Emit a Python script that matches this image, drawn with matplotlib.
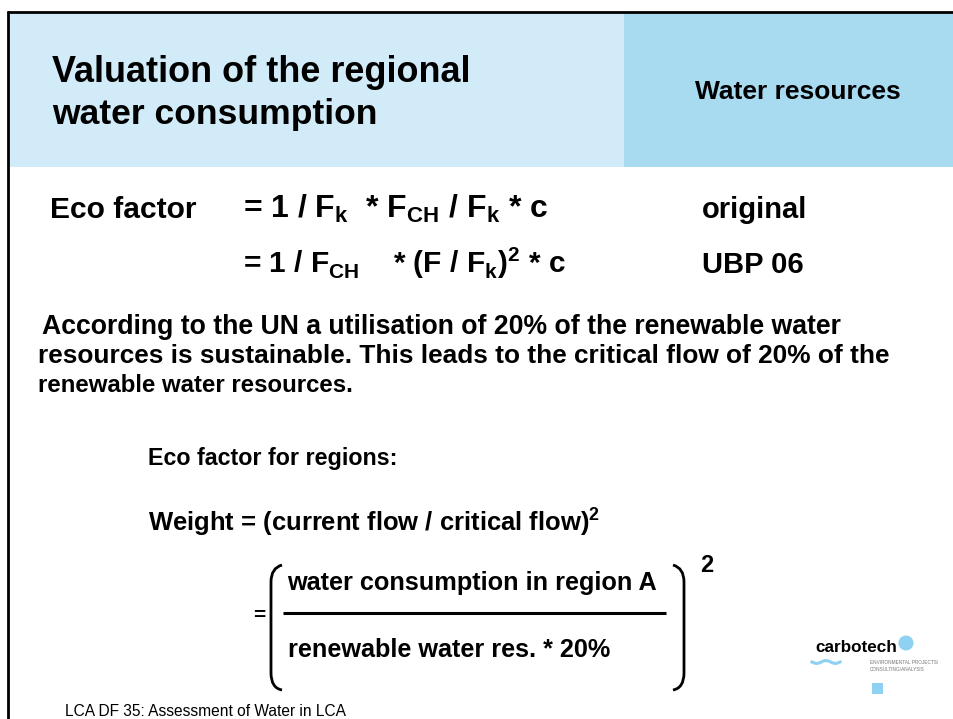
import numpy as np
import matplotlib
matplotlib.use("Agg")
import matplotlib.pyplot as plt
from matplotlib import font_manager
from matplotlib.patches import Rectangle, Circle, PathPatch
from matplotlib.path import Path

# ---------------- content ----------------
title_lines = ["Valuation of the regional", "water consumption"]
section_label = "Water resources"
eco_label = "Eco factor"
formula_rows = [r"= 1 / F$_\mathregular{k}$  * F$_\mathregular{CH}$ / F$_\mathregular{k}$ * c",
                r"= 1 / F$_\mathregular{CH}$    * (F / F$_\mathregular{k}$)$^\mathregular{2}$ * c"]
formula_tags = ["original", "UBP 06"]
paragraph_lines = ["According to the UN a utilisation of 20% of the renewable water",
                   "resources is sustainable. This leads to the critical flow of 20% of the",
                   "renewable water resources."]
regions_label = "Eco factor for regions:"
weight_line = r"Weight = (current flow / critical flow)$^\mathregular{2}$"
numerator = "water consumption in region A"
denominator = "renewable water res. * 20%"
exponent = "2"
footer = "LCA DF 35: Assessment of Water in LCA"
logo_name = "carbotech"
logo_tag = ["ENVIRONMENTAL PROJECTS/", "CONSULTING/ANALYSIS"]

# ---------------- style ----------------
W, H, DPI = 954, 719, 100
names = {f.name for f in font_manager.fontManager.ttflist}
FAM = "Liberation Sans" if "Liberation Sans" in names else "DejaVu Sans"
LOGO_FAM = FAM
LIGHT = "#D1ECF8"
DARK = "#A8DAF0"
LOGO_BLUE = "#8ED1F1"

fig = plt.figure(figsize=(W / DPI, H / DPI), dpi=DPI)
ax = fig.add_axes([0, 0, 1, 1])
ax.set_xlim(0, W)
ax.set_ylim(H, 0)
ax.axis("off")
renderer = fig.canvas.get_renderer()


def put(x, y, s, size, x_right=None, ha="left", **kw):
    kw.setdefault("fontweight", "bold")
    kw.setdefault("family", FAM)
    kw.setdefault("color", "black")
    t = ax.text(x, y, s, fontsize=size, ha=ha, va="baseline", **kw)
    if x_right is not None:
        w = t.get_window_extent(renderer).width
        if w > 0:
            t.set_fontsize(size * (x_right - x) / w)
    return t


# header panels
ax.add_patch(Rectangle((8, 12), 616, 155, facecolor=LIGHT, edgecolor="none"))
ax.add_patch(Rectangle((624, 12), 330, 155, facecolor=DARK, edgecolor="none"))
# frame lines
ax.plot([7, W], [11.5, 11.5], color="black", lw=2.0, solid_capstyle="butt")
ax.plot([8, 8], [11, H], color="black", lw=2.0, solid_capstyle="butt")

# title
put(52, 82, title_lines[0], 26, x_right=470)
put(52, 124, title_lines[1], 26, x_right=377)
put(798, 99, section_label, 19, ha="center")

# eco factor formulas
put(50, 218, eco_label, 20, x_right=197)
put(243, 218, formula_rows[0], 20, x_right=548)
put(243, 273, formula_rows[1], 20, x_right=566)
put(702, 218, formula_tags[0], 21)
put(702, 273, formula_tags[1], 21)

# paragraph
put(42, 334, paragraph_lines[0], 17, x_right=843)
put(38, 363, paragraph_lines[1], 17, x_right=892)
put(38, 392, paragraph_lines[2], 17, x_right=353)

# regional factor
put(148, 465, regions_label, 16, x_right=398)
put(148, 531, weight_line, 17, x_right=600)
put(253, 621, "=", 15)
put(287, 590, numerator, 17, x_right=657)
put(288, 657, denominator, 17, x_right=612)
put(700, 572, exponent, 17)

# fraction bar and brackets
ax.plot([283, 666], [613, 613], color="black", lw=2.2, solid_capstyle="butt")
lp = Path([(282, 565), (271, 568), (271, 582), (271, 673), (271, 688), (282, 690)],
          [Path.MOVETO, Path.CURVE3, Path.CURVE3, Path.LINETO, Path.CURVE3, Path.CURVE3])
rp = Path([(673, 565), (684, 568), (684, 582), (684, 673), (684, 688), (673, 690)],
          [Path.MOVETO, Path.CURVE3, Path.CURVE3, Path.LINETO, Path.CURVE3, Path.CURVE3])
for p in (lp, rp):
    ax.add_patch(PathPatch(p, facecolor="none", edgecolor="black", lw=2.0))

# footer
put(65, 716, footer, 10, x_right=347, fontweight="normal")

# logo
put(815, 652, logo_name, 14, x_right=897, family=LOGO_FAM, fontweight="heavy")
ax.add_patch(Circle((906, 643), 7.5, facecolor=LOGO_BLUE, edgecolor="none"))
wx = np.linspace(812, 840, 60)
ax.plot(wx, 662 + 1.4 * np.sin((wx - 812) / 28 * 3 * np.pi), color=LOGO_BLUE, lw=2.2)
ax.text(870, 664, logo_tag[0], fontsize=3.4, family=FAM, color="#777777", ha="left", va="baseline")
ax.text(870, 671, logo_tag[1], fontsize=3.4, family=FAM, color="#777777", ha="left", va="baseline")
ax.add_patch(Rectangle((872, 683), 11, 11, facecolor=LOGO_BLUE, edgecolor="none"))

fig.savefig("out.png", dpi=DPI)
